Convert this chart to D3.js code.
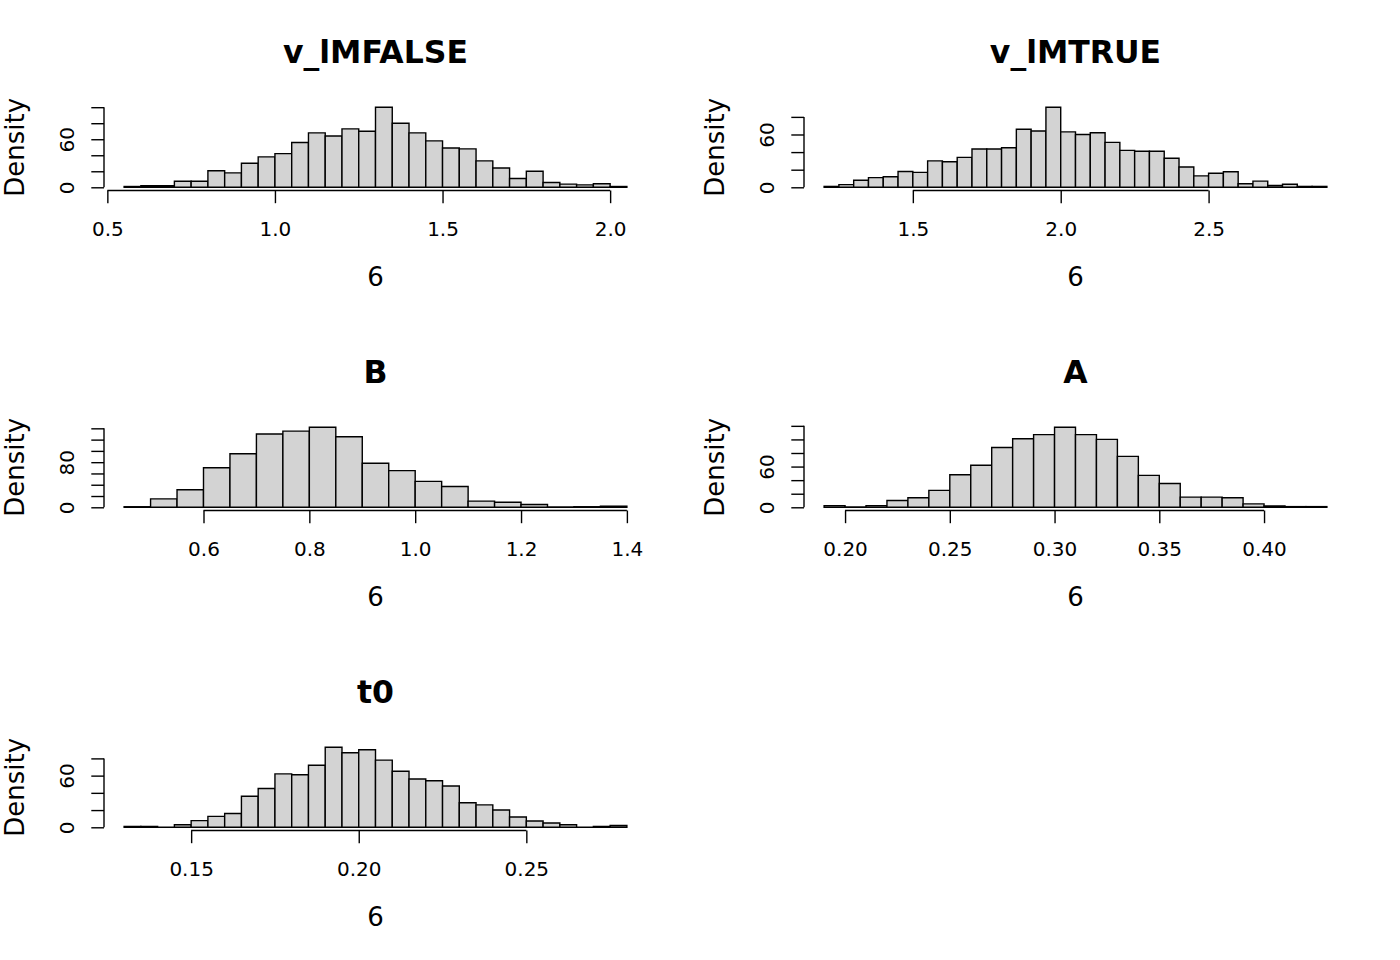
<!DOCTYPE html>
<html lang="en">
<head>
    <meta charset="UTF-8">
    <title>Posterior histograms</title>
    <script src="https://d3js.org/d3.v7.min.js"></script>
    <style>
        body { margin: 0; background: #ffffff; }
        text { font-family: "DejaVu Sans", sans-serif; fill: #000000; }
    </style>
</head>
<body>
<svg id="chart" width="1400" height="960"></svg>
<script>
    // bin edges and densities
    const breaks1 = [0.55, 0.60, 0.65, 0.70, 0.75, 0.80, 0.85, 0.90, 0.95, 1.00, 1.05, 1.10, 1.15, 1.20, 1.25, 1.30,
        1.35, 1.40, 1.45, 1.50, 1.55, 1.60, 1.65, 1.70, 1.75, 1.80, 1.85, 1.90, 1.95, 2.00, 2.05];
    const dens1 = [1, 2, 2, 7.5, 7.5, 20.7, 18, 30, 38, 42, 56, 68, 64, 73, 70,
        100, 80, 68, 58, 49, 48, 33, 24, 11, 20, 6, 4, 3, 4.5, 1];

    const breaks2 = [1.20, 1.25, 1.30, 1.35, 1.40, 1.45, 1.50, 1.55, 1.60, 1.65, 1.70, 1.75, 1.80, 1.85, 1.90, 1.95,
        2.00, 2.05, 2.10, 2.15, 2.20, 2.25, 2.30, 2.35, 2.40, 2.45, 2.50, 2.55, 2.60, 2.65, 2.70, 2.75, 2.80, 2.85, 2.90];
    const dens2 = [1, 3, 8, 11, 12, 18, 17, 30, 29, 34, 43.5, 43.5, 45, 66, 64, 91, 63,
        60, 62, 51, 42, 41, 41, 33, 23, 13, 16, 17.6, 4, 7, 2, 3.4, 1, 1];

    const breaks3 = [0.45, 0.50, 0.55, 0.60, 0.65, 0.70, 0.75, 0.80, 0.85, 0.90, 0.95, 1.00, 1.05, 1.10, 1.15,
        1.20, 1.25, 1.30, 1.35, 1.40];
    const dens3 = [1, 15, 31, 70, 95, 130, 135, 142, 125, 78, 65, 46, 37, 11, 9, 5, 0.6, 1, 2];

    const breaks4 = [0.19, 0.20, 0.21, 0.22, 0.23, 0.24, 0.25, 0.26, 0.27, 0.28, 0.29, 0.30, 0.31, 0.32, 0.33,
        0.34, 0.35, 0.36, 0.37, 0.38, 0.39, 0.40, 0.41, 0.42, 0.43];
    const dens4 = [2.4, 0.5, 2.4, 10, 14, 25, 48, 62, 88, 101, 107, 118, 107, 100, 75, 47, 35, 15, 15, 14, 5, 2, 1, 1];

    const breaks5 = [0.130, 0.135, 0.140, 0.145, 0.150, 0.155, 0.160, 0.165, 0.170, 0.175, 0.180, 0.185, 0.190,
        0.195, 0.200, 0.205, 0.210, 0.215, 0.220, 0.225, 0.230, 0.235, 0.240, 0.245, 0.250, 0.255, 0.260, 0.265,
        0.270, 0.275, 0.280];
    const dens5 = [1, 1, 0, 3, 7.7, 12.7, 16, 36, 45, 62, 61, 72, 93, 86.5, 90, 78, 65, 56, 54, 48,
        28.5, 26, 20, 12, 7.3, 5, 3, 0, 1, 2];

    // tick values and the labels R actually printed
    const xTicks1 = [0.5, 1.0, 1.5, 2.0], xLabels1 = ["0.5", "1.0", "1.5", "2.0"];
    const xTicks2 = [1.5, 2.0, 2.5], xLabels2 = ["1.5", "2.0", "2.5"];
    const xTicks3 = [0.6, 0.8, 1.0, 1.2, 1.4], xLabels3 = ["0.6", "0.8", "1.0", "1.2", "1.4"];
    const xTicks4 = [0.20, 0.25, 0.30, 0.35, 0.40], xLabels4 = ["0.20", "0.25", "0.30", "0.35", "0.40"];
    const xTicks5 = [0.15, 0.20, 0.25], xLabels5 = ["0.15", "0.20", "0.25"];

    const yTicks1 = [0, 20, 40, 60, 80, 100], yLabels1 = ["0", "", "", "60", "", ""];
    const yTicks2 = [0, 20, 40, 60, 80], yLabels2 = ["0", "", "", "60", ""];
    const yTicks3 = [0, 20, 40, 60, 80, 100, 120, 140], yLabels3 = ["0", "", "", "", "80", "", "", ""];
    const yTicks4 = [0, 20, 40, 60, 80, 100, 120], yLabels4 = ["0", "", "", "60", "", "", ""];
    const yTicks5 = [0, 20, 40, 60, 80], yLabels5 = ["0", "", "", "60", ""];

    const titles = ["v_lMFALSE", "v_lMTRUE", "B", "A", "t0"];
    const xLab = "6";
    const yLab = "Density";

    const panels = [
        {title: titles[0], breaks: breaks1, dens: dens1, xt: xTicks1, xl: xLabels1, yt: yTicks1, yl: yLabels1, col: 0, row: 0},
        {title: titles[1], breaks: breaks2, dens: dens2, xt: xTicks2, xl: xLabels2, yt: yTicks2, yl: yLabels2, col: 1, row: 0},
        {title: titles[2], breaks: breaks3, dens: dens3, xt: xTicks3, xl: xLabels3, yt: yTicks3, yl: yLabels3, col: 0, row: 1},
        {title: titles[3], breaks: breaks4, dens: dens4, xt: xTicks4, xl: xLabels4, yt: yTicks4, yl: yLabels4, col: 1, row: 1},
        {title: titles[4], breaks: breaks5, dens: dens5, xt: xTicks5, xl: xLabels5, yt: yTicks5, yl: yLabels5, col: 0, row: 2}
    ];

    // each cell of the 3x2 grid is 700 x 320, plot region inside it
    const cellW = 700, cellH = 320;
    const plotL = 104, plotR = 647, plotT = 104, plotB = 190.5;
    const tick = 12.7;
    const lw = 1.4;

    const svg = d3.select("#chart");

    panels.forEach(p => {
        const g = svg.append("g")
            .attr("transform", `translate(${p.col * cellW},${p.row * cellH})`);

        const b0 = p.breaks[0], bn = p.breaks[p.breaks.length - 1];
        const ext = 0.04 * (bn - b0);
        const x = d3.scaleLinear().domain([b0 - ext, bn + ext]).range([plotL, plotR]);
        const M = d3.max(p.dens);
        const y = d3.scaleLinear().domain([-0.04 * M, 1.04 * M]).range([plotB, plotT]);

        // bars as paths so empty bins still show as a line
        g.selectAll("path.bar")
            .data(p.dens)
            .join("path")
            .attr("class", "bar")
            .attr("d", (d, i) => {
                const x0 = x(p.breaks[i]), x1 = x(p.breaks[i + 1]);
                return `M${x0},${y(0)}V${y(d)}H${x1}V${y(0)}Z`;
            })
            .attr("fill", "#d3d3d3")
            .attr("stroke", "#000")
            .attr("stroke-width", lw);

        // x axis, line only between first and last tick like R
        const xa = g.append("g")
            .attr("transform", `translate(0,${plotB})`)
            .call(d3.axisBottom(x).tickValues(p.xt).tickFormat((d, i) => p.xl[i]).tickSize(tick));
        xa.select(".domain").remove();
        xa.append("line")
            .attr("x1", x(p.xt[0])).attr("x2", x(p.xt[p.xt.length - 1]))
            .attr("stroke", "#000");
        xa.selectAll("line").attr("stroke", "#000").attr("stroke-width", lw);
        xa.selectAll("text")
            .attr("y", 45.5).attr("dy", null)
            .attr("font-size", 20).attr("fill", "#000")
            .style("font-family", "DejaVu Sans, sans-serif");

        // y axis with labels parallel to the axis
        const ya = g.append("g")
            .attr("transform", `translate(${plotL},0)`)
            .call(d3.axisLeft(y).tickValues(p.yt).tickFormat((d, i) => p.yl[i]).tickSize(tick));
        ya.select(".domain").remove();
        ya.append("line")
            .attr("y1", y(p.yt[0])).attr("y2", y(p.yt[p.yt.length - 1]))
            .attr("stroke", "#000");
        ya.selectAll("line").attr("stroke", "#000").attr("stroke-width", lw);
        ya.selectAll("text")
            .attr("x", 0).attr("y", 0).attr("dy", null)
            .attr("text-anchor", "middle")
            .attr("transform", "translate(-30,0) rotate(-90)")
            .attr("font-size", 20).attr("fill", "#000")
            .style("font-family", "DejaVu Sans, sans-serif");

        g.append("text")
            .attr("x", (plotL + plotR) / 2).attr("y", 63)
            .attr("text-anchor", "middle")
            .attr("font-size", 31.5).attr("font-weight", "bold")
            .text(p.title);

        g.append("text")
            .attr("x", (plotL + plotR) / 2).attr("y", 286)
            .attr("text-anchor", "middle")
            .attr("font-size", 26)
            .text(xLab);

        g.append("text")
            .attr("transform", `translate(24,${(plotT + plotB) / 2}) rotate(-90)`)
            .attr("text-anchor", "middle")
            .attr("font-size", 26)
            .text(yLab);
    });
</script>
</body>
</html>
